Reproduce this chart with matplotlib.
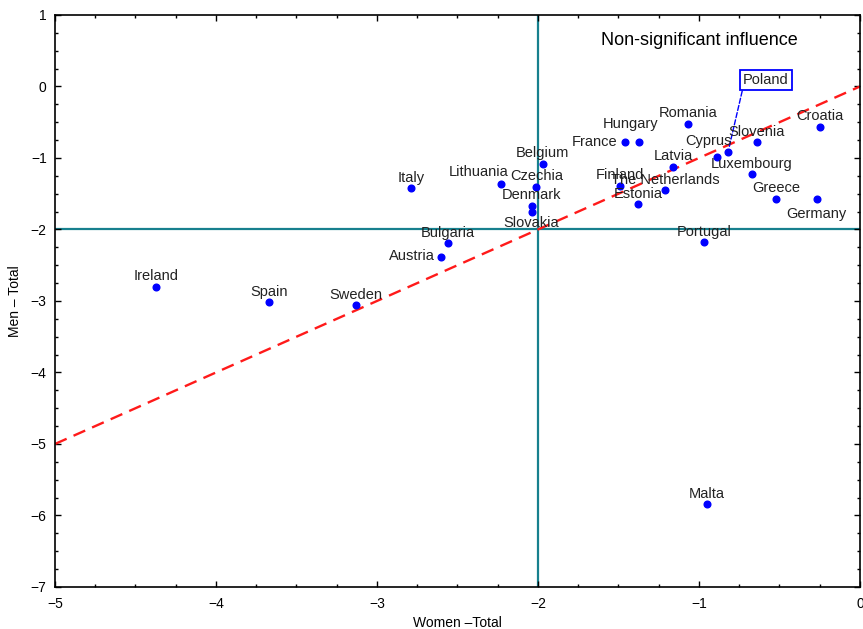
import matplotlib.pyplot as plt
from matplotlib.ticker import MultipleLocator

plt.rcParams['font.family'] = ['Liberation Sans', 'DejaVu Sans']

countries = ['Ireland', 'Spain', 'Sweden', 'Austria', 'Bulgaria', 'Italy',
             'Lithuania', 'Czechia', 'Belgium', 'Denmark', 'Slovakia',
             'France', 'Hungary', 'Finland', 'Estonia', 'The Netherlands',
             'Latvia', 'Romania', 'Cyprus', 'Poland', 'Luxembourg',
             'Slovenia', 'Greece', 'Germany', 'Croatia', 'Portugal', 'Malta']
women = [-4.37, -3.67, -3.13, -2.60, -2.56, -2.79,
         -2.23, -2.01, -1.97, -2.04, -2.04,
         -1.46, -1.37, -1.49, -1.38, -1.21,
         -1.16, -1.07, -0.89, -0.82, -0.67,
         -0.64, -0.52, -0.27, -0.25, -0.97, -0.95]
men = [-2.80, -3.02, -3.06, -2.38, -2.19, -1.42,
       -1.37, -1.40, -1.08, -1.67, -1.76,
       -0.78, -0.78, -1.39, -1.65, -1.45,
       -1.12, -0.52, -0.98, -0.92, -1.23,
       -0.78, -1.57, -1.57, -0.56, -2.18, -5.84]

# label offsets in pixels (dx, dy, ha); default is centred just above the dot
label_pos = {
    'Lithuania': (-22, 12.5, 'center'),
    'Slovakia': (0, -10.5, 'center'),
    'Germany': (0, -15, 'center'),
    'France': (-8, 0, 'right'),
    'Austria': (-7, 1, 'right'),
    'Hungary': (-9, 18, 'center'),
    'Cyprus': (-8, 15.5, 'center'),
}

fig = plt.figure(figsize=(8.63, 6.29), dpi=100)
ax = fig.add_axes([0.0637, 0.0668, 0.9328, 0.9094])

teal = '#17808e'
ax.axvline(-2, color=teal, lw=1.6, zorder=1)
ax.axhline(-2, color=teal, lw=1.6, zorder=1)
ax.plot([-5, 0], [-5, 0], color='#ff1a1a', lw=1.7, dashes=(5.4, 3.2), zorder=2)

ax.plot(women, men, 'o', color='#0000ff', ms=4.8, zorder=3)

for name, xv, yv in zip(countries, women, men):
    if name == 'Poland':
        ax.annotate(name, (xv, yv), xytext=(38, 72), textcoords='offset pixels',
                    ha='center', va='center', fontsize=10.5, color='#222222',
                    bbox=dict(boxstyle='square,pad=0.22', fc='white', ec='#0000ff', lw=1.3),
                    arrowprops=dict(arrowstyle='-', color='#0000ff', ls='--', lw=1.0,
                                    relpos=(0.0, 0.0), shrinkA=0, shrinkB=3))
        continue
    dx, dy, ha = label_pos.get(name, (0, 10.5, 'center'))
    ax.annotate(name, (xv, yv), xytext=(dx, dy), textcoords='offset pixels',
                ha=ha, va='center', fontsize=10.5, color='#222222', zorder=4)

ax.text(-1.0, 0.64, 'Non-significant influence', fontsize=13, ha='center', va='center')

ax.set_xlim(-5, 0)
ax.set_ylim(-7, 1)
ax.xaxis.set_major_locator(MultipleLocator(1))
ax.yaxis.set_major_locator(MultipleLocator(1))
ax.xaxis.set_minor_locator(MultipleLocator(0.25))
ax.yaxis.set_minor_locator(MultipleLocator(0.25))
ax.tick_params(which='both', direction='in', top=True, right=True, labelsize=10, width=1)
ax.tick_params(axis='x', pad=7)
ax.tick_params(axis='y', pad=6)
ax.tick_params(which='major', length=4)
ax.tick_params(which='minor', length=2.5)
for s in ax.spines.values():
    s.set_linewidth(1.2)

ax.set_xlabel('Women \u2013Total', fontsize=10, labelpad=4)
ax.set_ylabel('Men \u2013 Total', fontsize=10, labelpad=6)

fig.savefig('out.png', dpi=100)
